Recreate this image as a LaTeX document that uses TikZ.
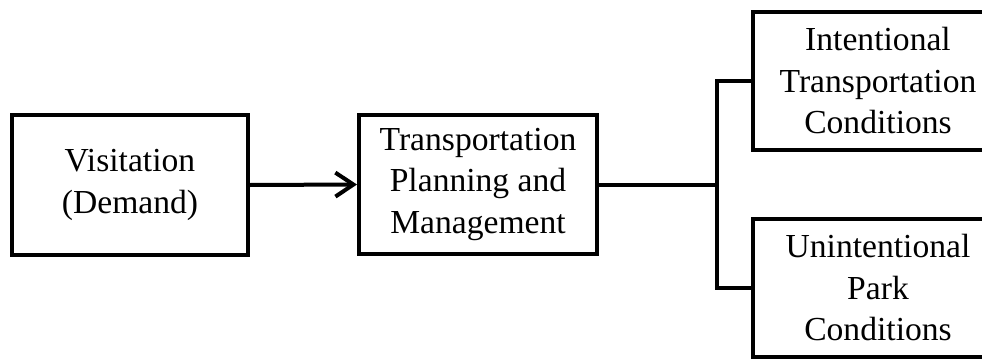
\documentclass[tikz,border=0pt]{standalone}
\usepackage{fontspec}
\setmainfont{Liberation Serif}
\usetikzlibrary{arrows.meta}
\begin{document}
\begin{tikzpicture}[x=1pt,y=-1pt,
  box/.style={draw=black,line width=4pt,rectangle,align=center,
    inner sep=0pt,font=\fontsize{33.6}{41.5}\selectfont},
  link/.style={draw=black,line width=4pt}]
\useasboundingbox (0,0) rectangle (982,361);
\clip (0,0) rectangle (982,361);
\node[box,minimum width=236pt,minimum height=140pt] (visit) at (130,185)
  {Visitation\\(Demand)};
\node[box,minimum width=238pt,minimum height=139pt] (plan) at (478,184.5)
  {Transportation\\Planning and\\Management};
\node[box,minimum width=250pt,minimum height=138pt] (intent) at (878,81)
  {Intentional\\Transportation\\Conditions};
\node[box,minimum width=250pt,minimum height=138pt] (unintent) at (878,288)
  {Unintentional\\Park\\Conditions};
\coordinate (split) at (717,184.5);
\draw[link,-{Straight Barb[length=18pt,width=24pt,line width=4pt]}] (visit.east) -- (plan.west);
\draw[link] (plan.east) -- (split);
\draw[link] (intent.west) -| (split) |- (unintent.west);
\end{tikzpicture}
\end{document}
